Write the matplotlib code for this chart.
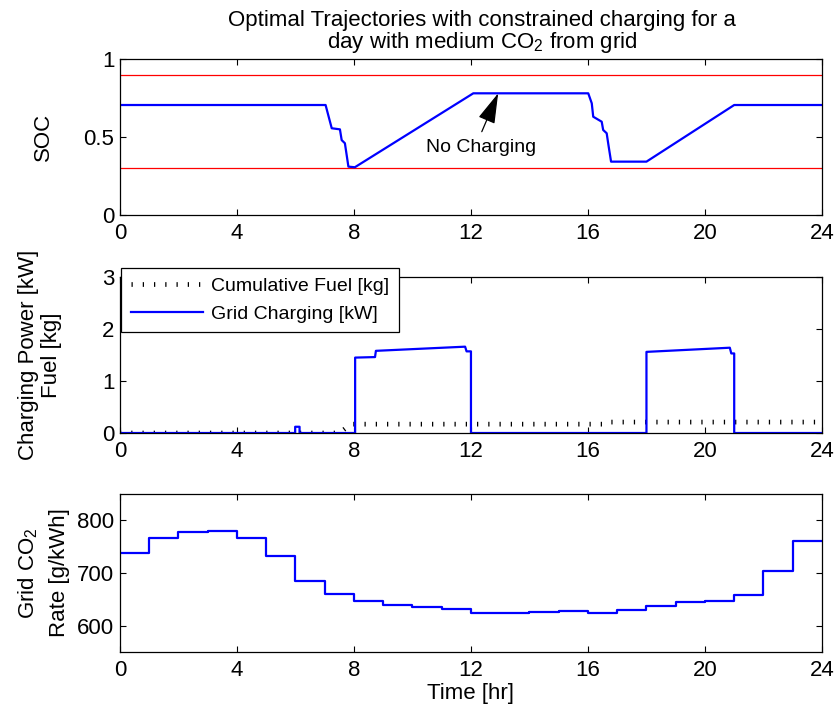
import matplotlib
matplotlib.use("Agg")
import matplotlib.pyplot as plt

plt.rcParams['font.family'] = ['Liberation Sans', 'DejaVu Sans']
plt.rcParams['mathtext.fontset'] = 'custom'
plt.rcParams['mathtext.rm'] = 'Liberation Sans'
plt.rcParams['mathtext.it'] = 'Liberation Sans:italic'
plt.rcParams['lines.scale_dashes'] = False

# State of charge trajectory
soc_t = [0, 7.03, 7.12, 7.24, 7.52, 7.58, 7.69, 7.81, 8.03, 12.08,
         16.01, 16.13, 16.18, 16.47, 16.52, 16.64, 16.70, 16.79, 18.0, 21.0, 24]
soc = [0.705, 0.705, 0.641, 0.556, 0.549, 0.48, 0.46, 0.31, 0.306, 0.78,
       0.78, 0.716, 0.63, 0.598, 0.545, 0.524, 0.449, 0.342, 0.342, 0.705, 0.705]
soc_max = 0.9
soc_min = 0.3

# Grid charging power [kW]
charge_t = [0, 5.99, 5.99, 6.14, 6.14, 8.04, 8.04, 8.72, 8.75, 11.80, 11.85, 12.0, 12.0,
            18.0, 18.0, 20.85, 20.90, 21.0, 21.0, 24]
charge = [0, 0, 0.12, 0.12, 0, 0, 1.45, 1.46, 1.58, 1.66, 1.57, 1.57, 0,
          0, 1.56, 1.64, 1.53, 1.53, 0, 0]

# Cumulative fuel [kg]
fuel_t = [0, 7.5, 7.9, 16.5, 16.6, 24]
fuel = [0, 0, 0.17, 0.17, 0.21, 0.21]

# Hourly grid CO2 intensity [g/kWh]
hours = list(range(25))
co2 = [738, 766, 778, 780, 767, 733, 685, 661, 647, 640, 636, 631, 625,
       624, 626, 627, 625, 629, 637, 644, 647, 659, 704, 760]

xticks = [0, 4, 8, 12, 16, 20, 24]
FS = 16
BLUE = '#0000ff'

fig = plt.figure(figsize=(8.36, 7.15), dpi=100)
left, width = 0.1435, 0.8397
ax1 = fig.add_axes([left, 0.6993, width, 0.2182])
ax2 = fig.add_axes([left, 0.3944, width, 0.2182])
ax3 = fig.add_axes([left, 0.0881, width, 0.2210])

for ax in (ax1, ax2, ax3):
    ax.set_xlim(0, 24)
    ax.set_xticks(xticks)
    ax.tick_params(direction='in', top=True, right=True, length=4.5, width=0.8,
                   labelsize=FS)
    ax.tick_params(axis='x', pad=6)
    ax.tick_params(axis='y', pad=4)
    for s in ax.spines.values():
        s.set_linewidth(0.9)

# SOC panel
ax1.plot([0, 24], [soc_max, soc_max], color='red', lw=0.9)
ax1.plot([0, 24], [soc_min, soc_min], color='red', lw=0.9)
ax1.plot(soc_t, soc, color=BLUE, lw=1.6)
ax1.set_ylim(0, 1)
ax1.set_yticks([0, 0.5, 1])
ax1.set_yticklabels(['0', '0.5', '1'])
ax1.set_ylabel('SOC', fontsize=FS)
ax1.yaxis.set_label_coords(-0.094, 0.5)
ax1.set_title('Optimal Trajectories with constrained charging for a\n'
              'day with medium CO$_2$ from grid', fontsize=FS, pad=8,
              linespacing=0.95, x=0.516)
ax1.text(12.36, 0.433, 'No Charging', ha='center', va='center', fontsize=14)
ax1.annotate('', xy=(12.93, 0.78), xytext=(12.37, 0.534),
             arrowprops=dict(arrowstyle='-|>,head_length=1.9,head_width=0.55',
                             mutation_scale=10, color='black', lw=0.9,
                             shrinkA=0, shrinkB=0))

# Charging / fuel panel
ax2.plot(fuel_t, fuel, color='black', lw=3.4,
         dashes=(0.9, 7.2), dash_capstyle='butt',
         label='Cumulative Fuel [kg]')
ax2.plot(charge_t, charge, color=BLUE, lw=1.6, label='Grid Charging [kW]')
ax2.set_ylim(0, 3)
ax2.set_yticks([0, 1, 2, 3])
ax2.set_ylabel('Charging Power [kW]\nFuel [kg]', fontsize=FS, linespacing=1.12)
ax2.yaxis.set_label_coords(-0.083, 0.5)
leg = ax2.legend(loc='upper left', bbox_to_anchor=(0.002, 1.058), borderaxespad=0,
                 fontsize=14, handlelength=3.7, handletextpad=0.42,
                 borderpad=0.5, labelspacing=0.5, fancybox=False,
                 framealpha=1)
leg.get_frame().set_edgecolor('black')
leg.get_frame().set_linewidth(0.9)

# Grid CO2 panel
ax3.step(hours, co2 + [co2[-1]], where='post', color=BLUE, lw=1.6)
ax3.set_ylim(550, 850)
ax3.set_yticks([600, 700, 800])
ax3.set_ylabel('Grid CO$_2$\nRate [g/kWh]', fontsize=FS, linespacing=1.6)
ax3.yaxis.set_label_coords(-0.071, 0.5)
ax3.set_xlabel('Time [hr]', fontsize=FS, labelpad=1)

fig.savefig('out.png', dpi=100)
